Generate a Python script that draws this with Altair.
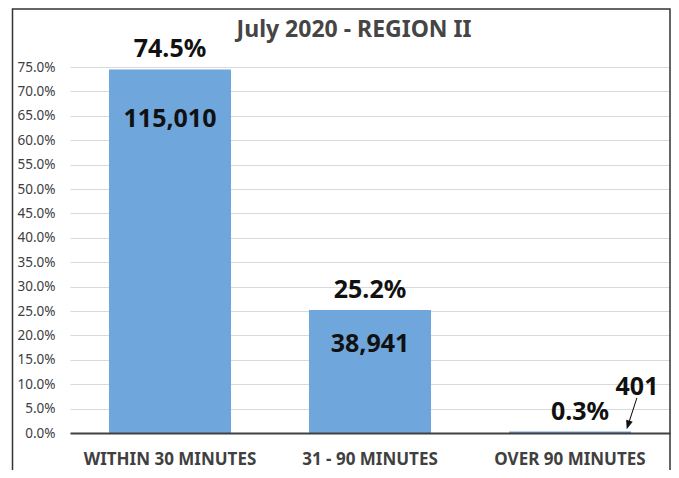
import altair as alt
import pandas as pd

# ---- data ----
categories = ["WITHIN 30 MINUTES", "31 - 90 MINUTES", "OVER 90 MINUTES"]
shares = [0.745, 0.252, 0.003]
counts = [115010, 38941, 401]
y_ticks = [0.0, 0.05, 0.10, 0.15, 0.20, 0.25, 0.30, 0.35, 0.40,
           0.45, 0.50, 0.55, 0.60, 0.65, 0.70, 0.75]
title_text = "July 2020 - REGION II"

df = pd.DataFrame({"category": categories, "share": shares, "count": counts})

FONT = "Noto Sans"
BAR = "#6fa6db"
W, H = 600, 366

x_enc = alt.X(
    "category:N", sort=categories,
    scale=alt.Scale(paddingInner=0.39, paddingOuter=0.195),
    axis=alt.Axis(title=None, labelAngle=0, ticks=False, grid=False,
                  domainColor="#404040", domainWidth=2, zindex=1,
                  labelFont=FONT, labelFontSize=17, labelFontWeight="bold",
                  labelColor="#404040", labelPadding=18),
)
y_enc = alt.Y(
    "share:Q", scale=alt.Scale(domain=[0, 0.75], nice=False),
    axis=alt.Axis(title=None, values=y_ticks, format=".1%", ticks=False,
                  domain=False, grid=True, gridColor="#d9d9d9", gridWidth=1,
                  labelFont=FONT, labelFontSize=13.5, labelColor="#404040",
                  labelPadding=15),
)

base = alt.Chart(df).encode(x=x_enc, y=y_enc)

bars = base.mark_bar(color=BAR)

lbl = dict(font=FONT, fontSize=25, fontWeight="bold", color="#111111",
           baseline="alphabetic", align="center")

pct_a = base.transform_filter(
    alt.FieldOneOfPredicate(field="category", oneOf=categories[:2])
).mark_text(dy=-12, **lbl).encode(text=alt.Text("share:Q", format=".1%"))
pct_b = base.transform_filter(
    alt.FieldEqualPredicate(field="category", equal=categories[2])
).mark_text(dy=-12, dx=10, **lbl).encode(text=alt.Text("share:Q", format=".1%"))

cnt_a = base.transform_filter(
    alt.FieldEqualPredicate(field="category", equal=categories[0])
).mark_text(dy=58, **lbl).encode(text=alt.Text("count:Q", format=",d"))
cnt_b = base.transform_filter(
    alt.FieldEqualPredicate(field="category", equal=categories[1])
).mark_text(dy=42, **lbl).encode(text=alt.Text("count:Q", format=",d"))

main = alt.layer(bars, pct_a, pct_b, cnt_a, cnt_b)

# annotation for the small third bar: count label with an arrow
ann_df = pd.DataFrame({
    "ax": [2 + 0.835, 2 + 0.81],
    "ay": [0.078, 0.041],
    "label": [f"{counts[2]:,}", ""],
})
ax_enc = alt.X("ax:Q", scale=alt.Scale(domain=[0, 3], nice=False, zero=False), axis=None)
ay_enc = alt.Y("ay:Q", scale=alt.Scale(domain=[0, 0.75], nice=False), axis=None)

note = alt.Chart(ann_df.iloc[[0]]).mark_text(**lbl).encode(
    x=ax_enc, y=ay_enc, text="label:N")

ARROW = "M0,-1L0,0.6M-0.17,0.55L0,1L0.17,0.55Z"
arrow = alt.Chart(ann_df.iloc[[1]]).mark_point(
    shape=ARROW, size=1000, angle=18, filled=True, fill="#111111",
    stroke="#111111", strokeWidth=1, opacity=1,
).encode(x=ax_enc, y=ay_enc)

ann = alt.layer(note, arrow)

# outer chart frame
frame = alt.Chart(pd.DataFrame({"f": [0]})).mark_rect(
    fillOpacity=0, stroke="#333333", strokeWidth=1.5
).encode(x=alt.value(-57.5), x2=alt.value(W), y=alt.value(-58), y2=alt.value(H + 60))

chart = alt.layer(frame, main, ann).resolve_scale(
    x="independent", y="independent"
).properties(
    width=W, height=H,
    padding={"left": 62, "top": 59, "right": 1, "bottom": 37},
    autosize=alt.AutoSizeParams(type="none"),
    title=alt.TitleParams(title_text, font=FONT, fontSize=23, fontWeight="bold",
                          color="#454545", anchor="middle", dx=-16, frame="group",
                          baseline="alphabetic", offset=-52),
).configure_view(stroke=None)

chart.save("out.html", embed_options={"renderer": "svg", "actions": False})
